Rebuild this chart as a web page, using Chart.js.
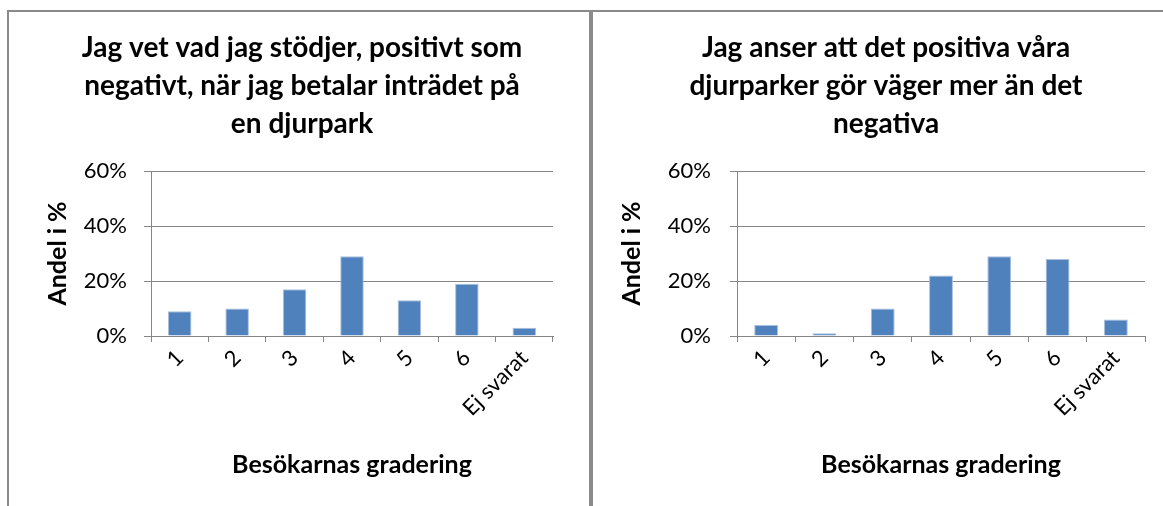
<!DOCTYPE html>
<html>
<head>
<meta charset="utf-8">
<script src="https://cdn.jsdelivr.net/npm/chart.js@4/dist/chart.umd.min.js"></script>
<style>
  html, body { margin: 0; padding: 0; background: #fff; }
  body { width: 1163px; height: 506px; position: relative; overflow: hidden; }
  #frame { position: absolute; left: 7px; top: 10px; width: 1156px; height: 500px;
           border-top: 2px solid #8a8a8a; border-left: 2px solid #8a8a8a; }
  #divider { position: absolute; left: 589px; top: 10px; width: 4px; height: 500px; background: #8a8a8a; }
  .box { position: absolute; top: 12px; }
  #left { left: 9px; }
  #right { left: 593px; }
</style>
</head>
<body>
<div id="frame"></div>
<div id="divider"></div>
<div class="box" id="left"><canvas id="chartLeft" width="580" height="494"></canvas></div>
<div class="box" id="right"><canvas id="chartRight" width="570" height="494"></canvas></div>
<script>
// data
const categories = ["1", "2", "3", "4", "5", "6", "Ej svarat"];
const stodjerValues = [9, 10, 17, 29, 13, 19, 3];
const vagerValues = [4, 1, 10, 22, 29, 28, 6];
const yTicks = [0, 20, 40, 60];
const titleLeft = ["Jag vet vad jag stödjer, positivt som", "negativt, när jag betalar inträdet på", "en djurpark"];
const titleRight = ["Jag anser att det positiva våra", "djurparker gör väger mer än det", "negativa"];
const xTitle = "Besökarnas gradering";
const yTitle = "Andel i %";

const gray = "#868686";
const barColor = "#4f81bd";
const fontFamily = "Lato, 'Open Sans', sans-serif";

function makeConfig(values, titleLines, opt) {
  return {
    type: "bar",
    data: {
      labels: categories,
      datasets: [{
        data: values,
        backgroundColor: barColor,
        borderColor: "#a9c0dd",
        borderWidth: 1,
        categoryPercentage: 1,
        barPercentage: 0.41,
      }],
    },
    options: {
      responsive: false,
      animation: false,
      layout: { padding: { left: opt.left, top: 0, right: 0, bottom: 0 } },
      plugins: {
        legend: { display: false },
        tooltip: { enabled: false },
        title: {
          display: true,
          text: titleLines,
          color: "#000",
          font: { family: fontFamily, size: 28, weight: "bold", lineHeight: 38 / 28 },
          padding: { top: 17, bottom: 28 },
        },
      },
      scales: {
        x: {
          afterFit: (s) => { s.height = 170; },
          grid: { drawOnChartArea: false, drawTicks: true, tickLength: 6, color: gray, offset: true },
          border: { color: gray, width: 1 },
          ticks: {
            color: "#000", autoSkip: false, minRotation: 45, maxRotation: 45, padding: 3,
            font: { family: fontFamily, size: 22 },
          },
          title: {
            display: true, text: xTitle, color: "#000",
            font: { family: fontFamily, size: 25, weight: "bold" },
            padding: { top: 0, bottom: 26 },
          },
        },
        y: {
          min: 0, max: 60,
          afterFit: (s) => { s.width = opt.yWidth; },
          afterBuildTicks: (s) => { s.ticks = yTicks.map(v => ({ value: v })); },
          grid: { color: gray, tickLength: 7, lineWidth: 1 },
          border: { color: gray, width: 1 },
          ticks: {
            color: "#000", padding: opt.yTickPad,
            font: { family: fontFamily, size: 22 },
            callback: (v) => v + "%",
          },
          title: {
            display: true, text: yTitle, color: "#000",
            font: { family: fontFamily, size: 25, weight: "bold" },
            padding: { top: opt.yTitlePad, bottom: 0 },
          },
        },
        // empty space on the right of the plot
        spacer: {
          type: "linear", position: "right",
          afterFit: (s) => { s.width = opt.rightGap; },
          grid: { display: false },
          border: { display: false },
          ticks: { display: false },
        },
      },
    },
  };
}

new Chart(document.getElementById("chartLeft").getContext("2d"),
  makeConfig(stodjerValues, titleLeft, { left: 6, rightGap: 36, yWidth: 136, yTickPad: 17, yTitlePad: 28 }));
new Chart(document.getElementById("chartRight").getContext("2d"),
  makeConfig(vagerValues, titleRight, { left: 16, rightGap: 18, yWidth: 128, yTickPad: 19, yTitlePad: 8 }));
</script>
</body>
</html>
